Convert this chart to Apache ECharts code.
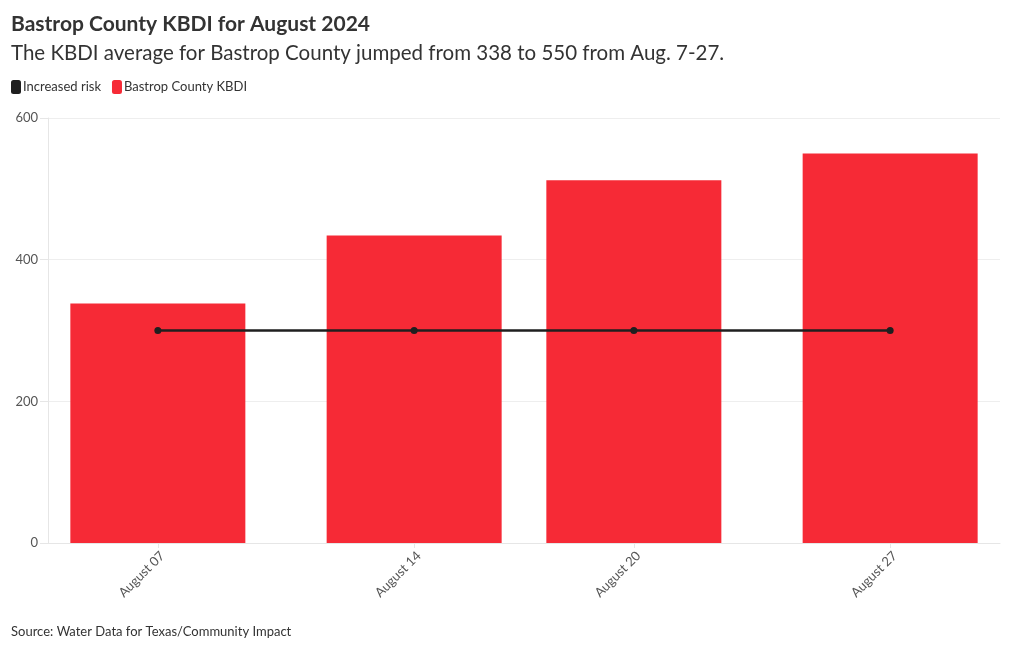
<!DOCTYPE html>
<html><head><meta charset="utf-8">
<script src="https://cdn.jsdelivr.net/npm/echarts@6/dist/echarts.min.js"></script>
<style>html,body{margin:0;padding:0;background:#fff}#c{width:1020px;height:650px}</style>
</head><body><div id="c"></div>
<script>
const dates = ['2024-08-07', '2024-08-14', '2024-08-20', '2024-08-27'];
const kbdi = [338, 434, 512, 550];
const risk = [300, 300, 300, 300];
const months = ['January','February','March','April','May','June','July','August','September','October','November','December'];

const toTs = s => { const p = s.split('-').map(Number); return Date.UTC(p[0], p[1]-1, p[2]); };
const ts = dates.map(toTs);
const FONT = 'Lato';

const chart = echarts.init(document.getElementById('c'));
chart.setOption({
  animation: false,
  textStyle: { fontFamily: FONT },
  title: [
    { text: 'Bastrop County KBDI for August 2024', left: 6, top: 9,
      textStyle: { fontFamily: FONT, fontSize: 21, fontWeight: 'bold', color: '#333' } },
    { text: 'The KBDI average for Bastrop County jumped from 338 to 550 from Aug. 7-27.', left: 6, top: 38,
      textStyle: { fontFamily: FONT, fontSize: 20.5, fontWeight: 'normal', color: '#333' } },
    { text: 'Source: Water Data for Texas/Community Impact', left: 6, top: 620,
      textStyle: { fontFamily: FONT, fontSize: 13, fontWeight: 'normal', color: '#333' } }
  ],
  legend: {
    left: 6, top: 75, itemWidth: 10, itemHeight: 14, itemGap: 11, icon: 'roundRect',
    textStyle: { fontFamily: FONT, fontSize: 13, color: '#333', padding: [0, 0, 0, -3] },
    data: ['Increased risk', 'Bastrop County KBDI']
  },
  grid: { left: 48, right: 20, top: 118, bottom: 107, containLabel: false },
  xAxis: {
    type: 'value',
    min: toTs('2024-08-04'), max: toTs('2024-08-30'),
    axisLine: { show: true, lineStyle: { color: '#e6e6e6' } },
    axisTick: { show: true, customValues: ts, length: 5, lineStyle: { color: '#e6e6e6' } },
    splitLine: { show: false },
    axisLabel: {
      customValues: ts, rotate: 45, fontSize: 13, color: '#555', margin: 6, fontFamily: FONT,
      verticalAlign: 'top',
      formatter: v => { const d = new Date(v); const dd = d.getUTCDate(); return months[d.getUTCMonth()] + ' ' + (dd < 10 ? '0' + dd : dd); }
    }
  },
  yAxis: {
    type: 'value', min: 0, max: 600, interval: 200,
    axisLine: { show: true, lineStyle: { color: '#e6e6e6' } },
    axisTick: { show: true, length: 8, lineStyle: { color: '#e6e6e6' } },
    splitLine: { lineStyle: { color: '#eeeeee' } },
    axisLabel: { fontSize: 13, color: '#555', margin: 10, fontFamily: FONT }
  },
  series: [
    { name: 'Bastrop County KBDI', type: 'bar', barWidth: 175,
      itemStyle: { color: '#f62a36' }, z: 1,
      data: ts.map((t, i) => [t, kbdi[i]]) },
    { name: 'Increased risk', type: 'line', symbol: 'circle', symbolSize: 7,
      lineStyle: { color: '#1f1f1f', width: 2.5 }, itemStyle: { color: '#1f1f1f' }, z: 3,
      data: ts.map((t, i) => [t, risk[i]]) }
  ]
});
</script></body></html>
